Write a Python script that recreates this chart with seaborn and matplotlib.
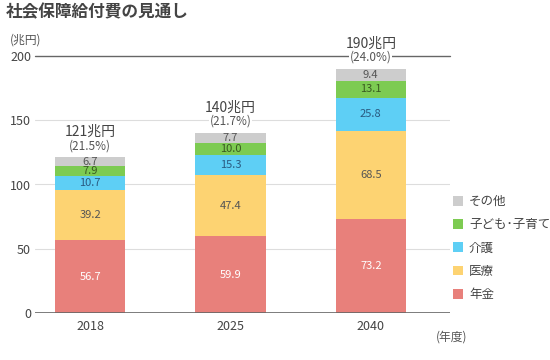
import matplotlib
matplotlib.use("Agg")
import matplotlib.pyplot as plt
import seaborn as sns
import pandas as pd
import numpy as np
from matplotlib.patches import Patch

years = ["2018", "2025", "2040"]
series_names = ["年金", "医療", "介護", "子ども･子育て", "その他"]
pension = [56.7, 59.9, 73.2]
medical = [39.2, 47.4, 68.5]
care = [10.7, 15.3, 25.8]
children = [7.9, 10.0, 13.1]
other = [6.7, 7.7, 9.4]
totals = ["121兆円", "140兆円", "190兆円"]
ratios = ["(21.5%)", "(21.7%)", "(24.0%)"]
colors = ["#E8807B", "#FDD372", "#5ECFF5", "#7DCB52", "#CDCDCD"]
text_colors = ["white", "#555555", "#2a5a80", "#3a5a20", "#555555"]

values = [pension, medical, care, children, other]

sns.set_theme(style="white")
plt.rcParams['font.family'] = ['Noto Sans CJK JP', 'DejaVu Sans']

fig = plt.figure(figsize=(5.5, 3.6), dpi=100)
ax = fig.add_axes([0.064, 0.1306, 0.754, 0.7138])

cum = np.cumsum(np.array(values), axis=0)
rows = []
for i, name in enumerate(series_names):
    for j, y in enumerate(years):
        rows.append({"year": y, "series": name, "top": cum[i, j],
                     "bottom": cum[i, j] - values[i][j], "value": values[i][j]})
df = pd.DataFrame(rows)

for i in reversed(range(len(series_names))):
    sub = df[df.series == series_names[i]]
    sns.barplot(data=sub, x="year", y="top", color=colors[i], width=0.5,
                ax=ax, saturation=1, linewidth=0, order=years)

for _, r in df.iterrows():
    i = series_names.index(r.series)
    j = years.index(r.year)
    ax.text(j, (r.top + r.bottom) / 2, f"{r.value:.1f}", ha="center", va="center",
            fontsize=8, color=text_colors[i])

for j in range(3):
    tot = cum[-1, j]
    ax.annotate(ratios[j], (j, tot), xytext=(0, 3.5), textcoords="offset points",
                ha="center", va="bottom", fontsize=8.5, color="#555555",
                bbox=dict(facecolor="white", edgecolor="none", pad=0.5),
                annotation_clip=False, zorder=5)
    ax.annotate(totals[j], (j, tot), xytext=(0, 13), textcoords="offset points",
                ha="center", va="bottom", fontsize=10, color="#444444",
                annotation_clip=False, zorder=5)

ax.set_xlim(-0.393, 2.564)
ax.set_ylim(0, 200)
ax.set_yticks([0, 50, 100, 150, 200])
ax.set_yticklabels(["0", "50", "100", "150", "200"], fontsize=9, color="#444444")
ax.tick_params(axis="both", length=0, pad=3)
ax.tick_params(axis="x", labelsize=9, labelcolor="#444444", pad=5)
for y in [50, 100, 150]:
    ax.axhline(y, color="#dddddd", lw=0.8, zorder=0)
ax.axhline(200, color="#666666", lw=1.0, zorder=1, clip_on=False)
ax.axhline(0, color="#666666", lw=1.2, zorder=3)
for s in ax.spines.values():
    s.set_visible(False)
ax.set_xlabel("")
ax.set_ylabel("")

fig.text(0.01, 0.965, "社会保障給付費の見通し", fontsize=12, fontweight="bold",
         color="#444444", ha="left", va="center")
fig.text(0.018, 0.888, "(兆円)", fontsize=8.5, color="#555555", ha="left", va="center")
fig.text(0.792, 0.063, "(年度)", fontsize=8.5, color="#555555", ha="left", va="center")

handles = [Patch(facecolor=colors[i], edgecolor="none") for i in reversed(range(5))]
labels = list(reversed(series_names))
fig.legend(handles, labels, loc="upper left", bbox_to_anchor=(0.823, 0.458),
           frameon=False, fontsize=9, handlelength=0.8, handleheight=0.8,
           handletextpad=0.5, labelspacing=0.82, borderaxespad=0, borderpad=0,
           labelcolor="#444444")

fig.savefig("out.png", dpi=100)
